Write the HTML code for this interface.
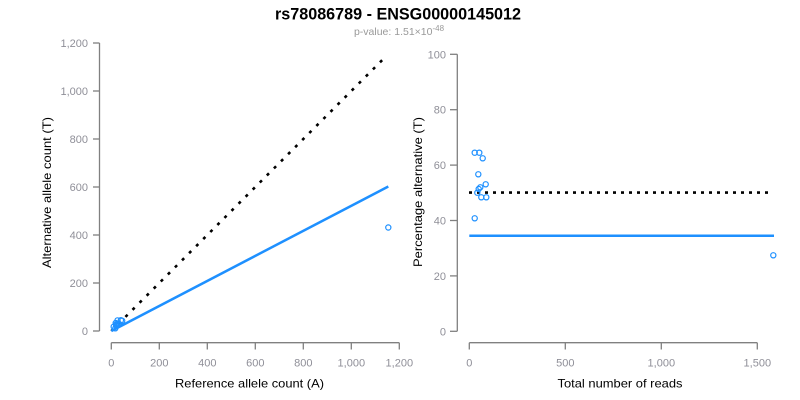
<!DOCTYPE html>
<html>
<head>
<meta charset="utf-8">
<style>
html,body{margin:0;padding:0;background:#fff;}
svg{display:block;}
text{font-family:"Liberation Sans",Arial,sans-serif;}
</style>
</head>
<body>
<svg width="800" height="400" viewBox="0 0 800 400" xmlns="http://www.w3.org/2000/svg">
<rect width="800" height="400" fill="#fff"/>
<!-- Title -->
<text x="398" y="19.5" font-size="16.7" font-weight="bold" text-anchor="middle" fill="#000" textLength="246" lengthAdjust="spacingAndGlyphs">rs78086789 - ENSG00000145012</text>
<text x="399" y="35" font-size="10.5" text-anchor="middle" fill="#999">p-value: 1.51×10<tspan dy="-4" font-size="8">-48</tspan></text>

<!-- LEFT PLOT -->
<g stroke="#808080" stroke-width="1.3" fill="none">
  <line x1="99.5" y1="43" x2="99.5" y2="331"/>
  <line x1="93" y1="331" x2="99.5" y2="331"/>
  <line x1="93" y1="283" x2="99.5" y2="283"/>
  <line x1="93" y1="235" x2="99.5" y2="235"/>
  <line x1="93" y1="187" x2="99.5" y2="187"/>
  <line x1="93" y1="139" x2="99.5" y2="139"/>
  <line x1="93" y1="91" x2="99.5" y2="91"/>
  <line x1="93" y1="43" x2="99.5" y2="43"/>
  <line x1="111.3" y1="342.7" x2="399.3" y2="342.7"/>
  <line x1="111.3" y1="342.7" x2="111.3" y2="349.5"/>
  <line x1="159.3" y1="342.7" x2="159.3" y2="349.5"/>
  <line x1="207.3" y1="342.7" x2="207.3" y2="349.5"/>
  <line x1="255.3" y1="342.7" x2="255.3" y2="349.5"/>
  <line x1="303.3" y1="342.7" x2="303.3" y2="349.5"/>
  <line x1="351.3" y1="342.7" x2="351.3" y2="349.5"/>
  <line x1="399.3" y1="342.7" x2="399.3" y2="349.5"/>
</g>
<g font-size="11" fill="#8f8f98" text-anchor="end">
  <text x="88" y="335">0</text>
  <text x="88" y="287">200</text>
  <text x="88" y="239">400</text>
  <text x="88" y="191">600</text>
  <text x="88" y="143">800</text>
  <text x="88" y="95">1,000</text>
  <text x="88" y="47">1,200</text>
</g>
<g font-size="11" fill="#8f8f98" text-anchor="middle">
  <text x="111.3" y="366.5">0</text>
  <text x="159.3" y="366.5">200</text>
  <text x="207.3" y="366.5">400</text>
  <text x="255.3" y="366.5">600</text>
  <text x="303.3" y="366.5">800</text>
  <text x="351.3" y="366.5">1,000</text>
  <text x="399.3" y="366.5">1,200</text>
</g>
<text x="249.5" y="387.5" font-size="12" text-anchor="middle" fill="#000" textLength="149" lengthAdjust="spacingAndGlyphs">Reference allele count (A)</text>
<text transform="translate(51,192.5) rotate(-90)" font-size="12" text-anchor="middle" fill="#000" textLength="151" lengthAdjust="spacingAndGlyphs">Alternative allele count (T)</text>

<!-- left lines -->
<line x1="111.3" y1="331" x2="387" y2="55.3" stroke="#000" stroke-width="2.6" stroke-dasharray="3 7"/>
<line x1="111.3" y1="331" x2="388.3" y2="186.5" stroke="#1E90FF" stroke-width="2.5"/>
<!-- left points -->
<g fill="none" stroke="#1E90FF" stroke-width="1.2">
  <circle cx="113.7" cy="326.7" r="2.6"/>
  <circle cx="115.7" cy="323" r="2.6"/>
  <circle cx="117.5" cy="320.4" r="2.6"/>
  <circle cx="116.1" cy="324.5" r="2.6"/>
  <circle cx="120.9" cy="320.2" r="2.6"/>
  <circle cx="117.8" cy="323.8" r="2.6"/>
  <circle cx="117.1" cy="325" r="2.6"/>
  <circle cx="116.3" cy="326" r="2.6"/>
  <circle cx="119" cy="323.8" r="2.6"/>
  <circle cx="122.2" cy="320.8" r="2.6"/>
  <circle cx="115.3" cy="328.3" r="2.6"/>
  <circle cx="388.3" cy="227.5" r="2.6"/>
</g>

<!-- RIGHT PLOT -->
<g stroke="#808080" stroke-width="1.3" fill="none">
  <line x1="457.3" y1="54.3" x2="457.3" y2="331.3"/>
  <line x1="450" y1="331.3" x2="457.3" y2="331.3"/>
  <line x1="450" y1="275.9" x2="457.3" y2="275.9"/>
  <line x1="450" y1="220.5" x2="457.3" y2="220.5"/>
  <line x1="450" y1="165.1" x2="457.3" y2="165.1"/>
  <line x1="450" y1="109.7" x2="457.3" y2="109.7"/>
  <line x1="450" y1="54.3" x2="457.3" y2="54.3"/>
  <line x1="469.3" y1="342.7" x2="757.3" y2="342.7"/>
  <line x1="469.3" y1="342.7" x2="469.3" y2="349.5"/>
  <line x1="565.3" y1="342.7" x2="565.3" y2="349.5"/>
  <line x1="661.3" y1="342.7" x2="661.3" y2="349.5"/>
  <line x1="757.3" y1="342.7" x2="757.3" y2="349.5"/>
</g>
<g font-size="11" fill="#8f8f98" text-anchor="end">
  <text x="446" y="335.3">0</text>
  <text x="446" y="279.9">20</text>
  <text x="446" y="224.5">40</text>
  <text x="446" y="169.1">60</text>
  <text x="446" y="113.7">80</text>
  <text x="446" y="58.3">100</text>
</g>
<g font-size="11" fill="#8f8f98" text-anchor="middle">
  <text x="469.3" y="366.5">0</text>
  <text x="565.3" y="366.5">500</text>
  <text x="661.3" y="366.5">1,000</text>
  <text x="757.3" y="366.5">1,500</text>
</g>
<text x="620" y="387.5" font-size="12" text-anchor="middle" fill="#000" textLength="125" lengthAdjust="spacingAndGlyphs">Total number of reads</text>
<text transform="translate(422,192) rotate(-90)" font-size="12" text-anchor="middle" fill="#000" textLength="150" lengthAdjust="spacingAndGlyphs">Percentage alternative (T)</text>

<line x1="469" y1="192.6" x2="769" y2="192.6" stroke="#000" stroke-width="2.6" stroke-dasharray="3 5"/>
<line x1="469.3" y1="235.7" x2="774" y2="235.7" stroke="#1E90FF" stroke-width="2.5"/>
<g fill="none" stroke="#1E90FF" stroke-width="1.2">
  <circle cx="474.7" cy="152.7" r="2.6"/>
  <circle cx="479.3" cy="152.7" r="2.6"/>
  <circle cx="482.7" cy="158.3" r="2.6"/>
  <circle cx="478.3" cy="174.3" r="2.6"/>
  <circle cx="485.7" cy="184.3" r="2.6"/>
  <circle cx="480.3" cy="187.3" r="2.6"/>
  <circle cx="478.7" cy="189" r="2.6"/>
  <circle cx="477.3" cy="192.7" r="2.6"/>
  <circle cx="481.3" cy="197.3" r="2.6"/>
  <circle cx="486.3" cy="197.3" r="2.6"/>
  <circle cx="474.7" cy="218.3" r="2.6"/>
  <circle cx="773.3" cy="255.3" r="2.6"/>
</g>
</svg>
</body>
</html>
